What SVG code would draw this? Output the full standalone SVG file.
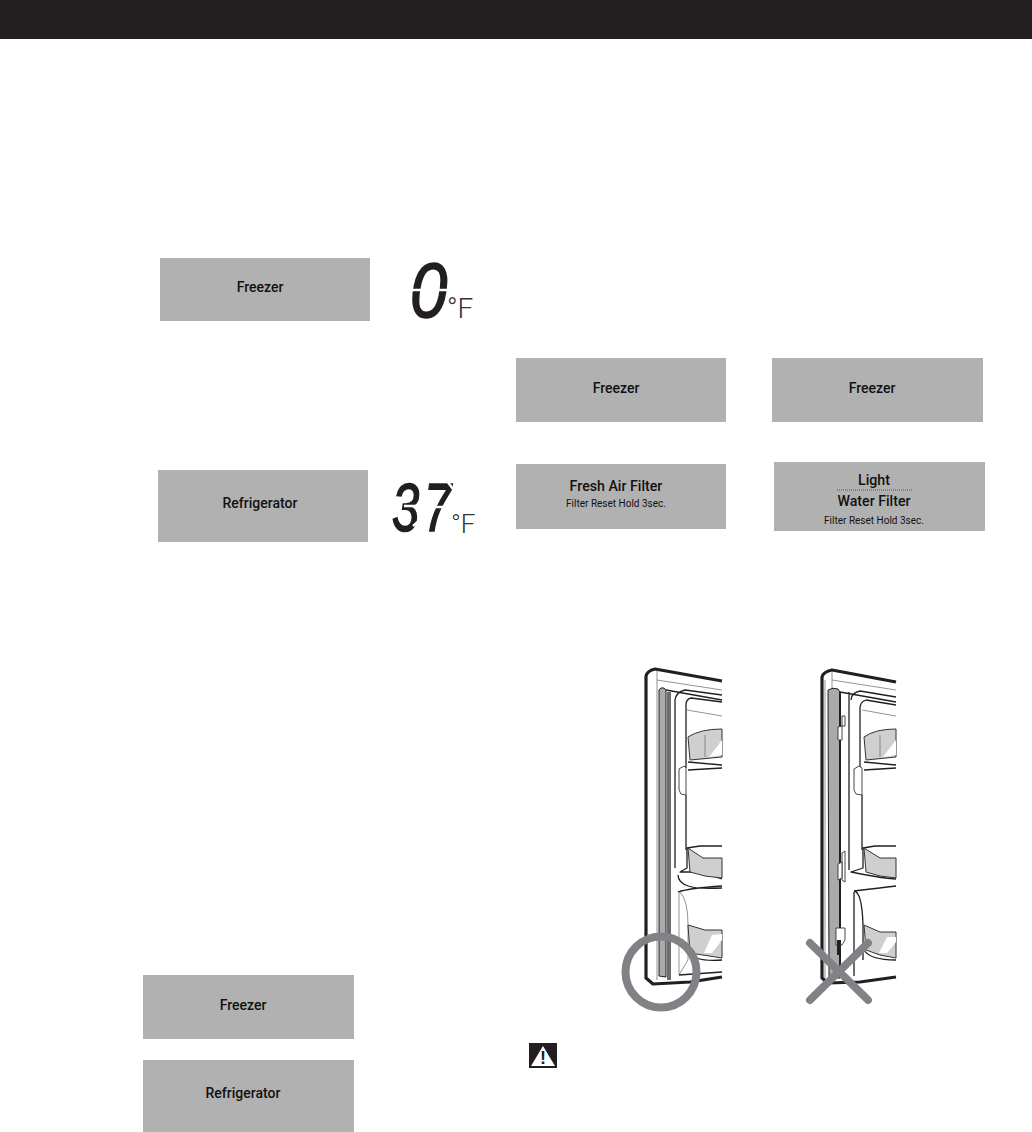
<svg xmlns="http://www.w3.org/2000/svg" width="1032" height="1132" viewBox="0 0 1032 1132">
<style>
.panel{fill:#b1b1b1}
.lbl{font-family:Roboto,"Liberation Sans",sans-serif;font-weight:500;fill:#111;text-anchor:middle;font-size:14px}
.big{font-size:14.2px}
.sm{font-size:10px;font-weight:400}
.seg{font-family:"Liberation Sans",Arial,sans-serif;font-style:italic;font-weight:400;fill:#231f20;stroke:#231f20;stroke-width:1.6}
.gap{stroke:#fff;stroke-width:2.5;fill:none}
.unit{font-family:Roboto,"Liberation Sans",sans-serif;font-weight:300;fill:#333}
.k1{fill:none;stroke:#231f20;stroke-width:3.2;stroke-linejoin:round}
.k2{fill:none;stroke:#231f20;stroke-width:1.3;stroke-linejoin:round}
.k3{fill:none;stroke:#666;stroke-width:.7}
.strip{fill:#a9aaac;stroke:#231f20;stroke-width:1}
.bin{fill:#cfcfcf;stroke:#333;stroke-width:1}
.w{fill:#fff;stroke:#333;stroke-width:.9}
.mark{fill:none;stroke:#808285;stroke-width:8;stroke-linecap:round}
</style>
<rect id="header" x="0" y="0" width="1032" height="39" fill="#231f20"/>

<g id="panel-freezer-1"><rect class="panel" x="160" y="258" width="210" height="63"/><text class="lbl" x="260" y="292">Freezer</text></g>
<g id="display-0">
<text class="seg" transform="translate(410 317) scale(.86 1)" font-size="78">0</text>
<path class="gap" d="M408 290H452M418 269L426 261M442 262L449 270M409 311L416 319M437 319L444 311"/>
<text class="unit" x="447" y="318" font-size="28">°F</text>
</g>
<g id="panel-refrigerator-1"><rect class="panel" x="158" y="470" width="210" height="72"/><text class="lbl" x="260" y="508">Refrigerator</text></g>
<g id="display-37">
<text class="seg" transform="translate(392 531) scale(.72 1)" x="0 44" font-size="68">37</text>
<path class="gap" d="M414 481L421 489M404 506H426M413 526L421 519M447 481L453 489M431 507H451"/>
<text class="unit" x="451" y="533" font-size="26">°F</text>
</g>

<g id="panel-freezer-2"><rect class="panel" x="516" y="358" width="210" height="64"/><text class="lbl" x="616" y="393">Freezer</text></g>
<g id="panel-freezer-3"><rect class="panel" x="772" y="358" width="211" height="64"/><text class="lbl" x="872" y="393">Freezer</text></g>
<g id="panel-fresh-air"><rect class="panel" x="516" y="464" width="210" height="65"/><text class="lbl big" x="616" y="491">Fresh Air Filter</text><text class="lbl sm" x="616" y="507">Filter Reset Hold 3sec.</text></g>
<g id="panel-water"><rect class="panel" x="774" y="462" width="211" height="69"/><text class="lbl big" x="874" y="485">Light</text><line x1="837" y1="490" x2="912" y2="490" stroke="#555" stroke-width="1" stroke-dasharray="1 1"/><text class="lbl big" x="874" y="506">Water Filter</text><text class="lbl sm" x="874" y="524">Filter Reset Hold 3sec.</text></g>

<g id="panel-freezer-4"><rect class="panel" x="143" y="975" width="211" height="64"/><text class="lbl" x="243" y="1010">Freezer</text></g>
<g id="panel-refrigerator-2"><rect class="panel" x="143" y="1060" width="211" height="72"/><text class="lbl" x="243" y="1098">Refrigerator</text></g>

<g id="door-correct">
<path class="k1" d="M722 681L655 669Q647 671 646 676V978L653 984L690 982L722 977"/>
<path class="k3" d="M657 671V980M657 680L722 690"/>
<path class="strip" d="M659 690Q660 687 664 688L666 690V977L659 976Z"/>
<path class="k2" d="M666 690L722 700M668 692V980M670 692V980"/>
<path class="k2" d="M722 695L685 690Q676 692 675 700V868M722 702L691 698Q686 699 686 705V768M686 795V850"/>
<path class="k3" d="M687 710L722 716"/>
<path class="bin" d="M688 737Q700 729 722 729V757L690 760Z"/>
<path class="k3" d="M705 735V757"/>
<path d="M709 757L722 740V755Z" fill="#fff"/>
<path class="k2" d="M688 762L722 765M688 770L722 768"/>
<path class="w" d="M679 769L684 766L686 768V795L681 794L679 790Z"/>
<path class="k2" d="M722 846H700L687 848V868L680 872H700L722 879"/>
<path class="bin" d="M688 848L703 858H722V878L705 876L690 872Z"/>
<path class="k2" d="M678 875Q678 891 722 888M678 892Q690 888 722 886"/>
<path class="k3" d="M680 892Q688 900 688 925V960L679 975V892"/>
<path class="bin" d="M688 925L705 930H722V958L703 955L690 953Z"/>
<path d="M704 953L712 935L722 934V940L712 953Z" fill="#fff"/>
<path class="k2" d="M690 953Q695 962 722 960M679 975L722 972"/>
<circle cx="661" cy="972" r="35.5" fill="none" stroke="#808285" stroke-width="8"/>
</g>

<g id="door-wrong">
<path class="k1" d="M896 682L832 670Q823 672 822 677V978L828 983L860 982L896 977"/>
<path class="k3" d="M832 671V689M832 680L896 690M825 680V978"/>
<path class="strip" d="M828 690Q833 687 838 689L840 692V978H829Z"/>
<path d="M840 692V978" stroke="#231f20" stroke-width="2" fill="none"/>
<path class="k2" d="M840 692L896 702M849 692V870M896 697L860 691Q851 693 851 700M896 705L866 700Q860 702 860 708V768M862 795V850"/>
<path class="k3" d="M862 710L896 716"/>
<path class="w" d="M842 716H845V726H842Z"/>
<path class="w" d="M838 727L842 726V740H838Z"/>
<path class="bin" d="M864 737Q875 729 896 729V757L866 760Z"/>
<path class="k3" d="M880 735V757"/>
<path d="M883 757L896 740V755Z" fill="#fff"/>
<path class="k2" d="M864 762L896 765M864 770L896 768"/>
<path class="w" d="M854 769L859 766L862 768V795L856 794L854 790Z"/>
<path class="w" d="M842 853L845 851V882L842 880Z"/>
<path class="w" d="M838 864L842 862V878L838 880Z"/>
<path class="k2" d="M896 846H875L863 848V868L851 872Q880 878 896 879"/>
<path class="bin" d="M864 848L880 858H896V878L880 876L866 872Z"/>
<path class="k2" d="M854 891Q880 888 896 886M854 891Q862 892 863 925V960M854 892V976"/>
<path class="bin" d="M864 925L880 932H896V958L880 955L866 950Z"/>
<path d="M879 953L887 937H896V942L887 953Z" fill="#fff"/>
<path class="k2" d="M864 950Q870 960 896 960"/>
<path class="w" d="M836 928H845V940L842 945H836Z"/>
<path d="M837 940H841V955H837Z" fill="#231f20"/>
<path class="mark" d="M810 943L868 1000M868 943L810 1000"/>
</g>

<g id="warning-icon">
<rect x="529" y="1043" width="28" height="25" fill="#231f20"/>
<path d="M543 1046L555 1066H531Z" fill="#fff"/>
<text x="543" y="1064" font-family="Liberation Sans,sans-serif" font-weight="700" font-size="18" text-anchor="middle" fill="#231f20">!</text>
</g>
</svg>
